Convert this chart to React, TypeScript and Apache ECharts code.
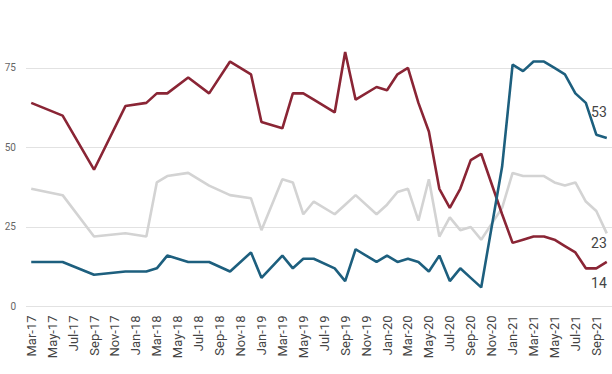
import React, { useEffect, useRef } from "react";
import * as echarts from "echarts";

const months: string[] = [
  "Mar-17", "Apr-17", "May-17", "Jun-17", "Jul-17", "Aug-17", "Sep-17", "Oct-17", "Nov-17", "Dec-17",
  "Jan-18", "Feb-18", "Mar-18", "Apr-18", "May-18", "Jun-18", "Jul-18", "Aug-18", "Sep-18", "Oct-18",
  "Nov-18", "Dec-18", "Jan-19", "Feb-19", "Mar-19", "Apr-19", "May-19", "Jun-19", "Jul-19", "Aug-19",
  "Sep-19", "Oct-19", "Nov-19", "Dec-19", "Jan-20", "Feb-20", "Mar-20", "Apr-20", "May-20", "Jun-20",
  "Jul-20", "Aug-20", "Sep-20", "Oct-20", "Nov-20", "Dec-20", "Jan-21", "Feb-21", "Mar-21", "Apr-21",
  "May-21", "Jun-21", "Jul-21", "Aug-21", "Sep-21", "Oct-21",
];

const redSeries: (number | null)[] = [
  64, null, null, 60, null, null, 43, null, null, 63,
  null, 64, 67, 67, null, 72, null, 67, null, 77,
  null, 73, 58, null, 56, 67, 67, 65, null, 61,
  80, 65, null, 69, 68, 73, 75, 64, 55, 37,
  31, 37, 46, 48, null, 29, 20, 21, 22, 22,
  21, 19, 17, 12, 12, 14,
];

const graySeries: (number | null)[] = [
  37, null, null, 35, null, null, 22, null, null, 23,
  null, 22, 39, 41, null, 42, null, 38, null, 35,
  null, 34, 24, null, 40, 39, 29, 33, null, 29,
  32, 35, null, 29, 32, 36, 37, 27, 40, 22,
  28, 24, 25, 21, null, 31, 42, 41, 41, 41,
  39, 38, 39, 33, 30, 23,
];

const blueSeries: (number | null)[] = [
  14, null, null, 14, null, null, 10, null, null, 11,
  null, 11, 12, 16, null, 14, null, 14, null, 11,
  null, 17, 9, null, 16, 12, 15, 15, null, 12,
  8, 18, null, 14, 16, 14, 15, 14, 11, 16,
  8, 12, 9, 6, null, 44, 76, 74, 77, 77,
  75, 73, 67, 64, 54, 53,
];

const yTicks = { min: 0, max: 80, interval: 25 };

const FONT = "Roboto, 'Noto Sans', sans-serif";

export default function App() {
  const ref = useRef<HTMLDivElement>(null);

  useEffect(() => {
    if (!ref.current) return;
    const chart = echarts.init(ref.current, undefined, { renderer: "svg" });

    const mkSeries = (
      name: string,
      data: (number | null)[],
      color: string,
      offset: [number, number]
    ) => ({
      name,
      type: "line",
      data,
      connectNulls: true,
      showSymbol: false,
      symbol: "none",
      smooth: false,
      lineStyle: { color, width: 2.6 },
      itemStyle: { color },
      emphasis: { disabled: true },
      endLabel: {
        show: true,
        distance: 0,
        align: "right",
        verticalAlign: "middle",
        offset,
        color: "#444",
        fontSize: 14,
        fontFamily: FONT,
        formatter: (p: any) => String(Array.isArray(p.value) ? p.value[1] : p.value),
      },
    });

    chart.setOption({
      animation: false,
      grid: {
        left: 26,
        right: 0,
        top: 52,
        bottom: 67.5,
        containLabel: false,
        outerBoundsMode: "none",
      },
      xAxis: {
        type: "category",
        data: months,
        boundaryGap: true,
        axisLine: { show: false },
        axisTick: { show: false },
        splitLine: { show: false },
        axisLabel: {
          interval: 1,
          rotate: 90,
          margin: 9,
          color: "#444",
          fontSize: 13,
          fontFamily: FONT,
        },
      },
      yAxis: {
        type: "value",
        min: yTicks.min,
        max: yTicks.max,
        interval: yTicks.interval,
        axisLine: { show: false },
        axisTick: { show: false },
        axisLabel: {
          showMaxLabel: false,
          margin: 10,
          color: "#666",
          fontSize: 10,
          fontFamily: FONT,
          formatter: (v: number) => (v % 25 === 0 ? String(v) : ""),
        },
        splitLine: {
          show: true,
          showMaxLine: false,
          lineStyle: { color: ["#e2e2e2", "#e2e2e2", "#e2e2e2", "#e2e2e2", "rgba(0,0,0,0)"], width: 1 },
        },
      },
      series: [
        mkSeries("Gray", graySeries, "#d3d3d3", [0, 10]),
        mkSeries("Red", redSeries, "#8a2535", [0, 21]),
        mkSeries("Blue", blueSeries, "#1d5f7e", [0, -26]),
      ],
    });

    return () => chart.dispose();
  }, []);

  return (
    <div
      ref={ref}
      style={{ position: "fixed", left: 0, top: 0, width: 612, height: 374, background: "#fff" }}
    />
  );
}
